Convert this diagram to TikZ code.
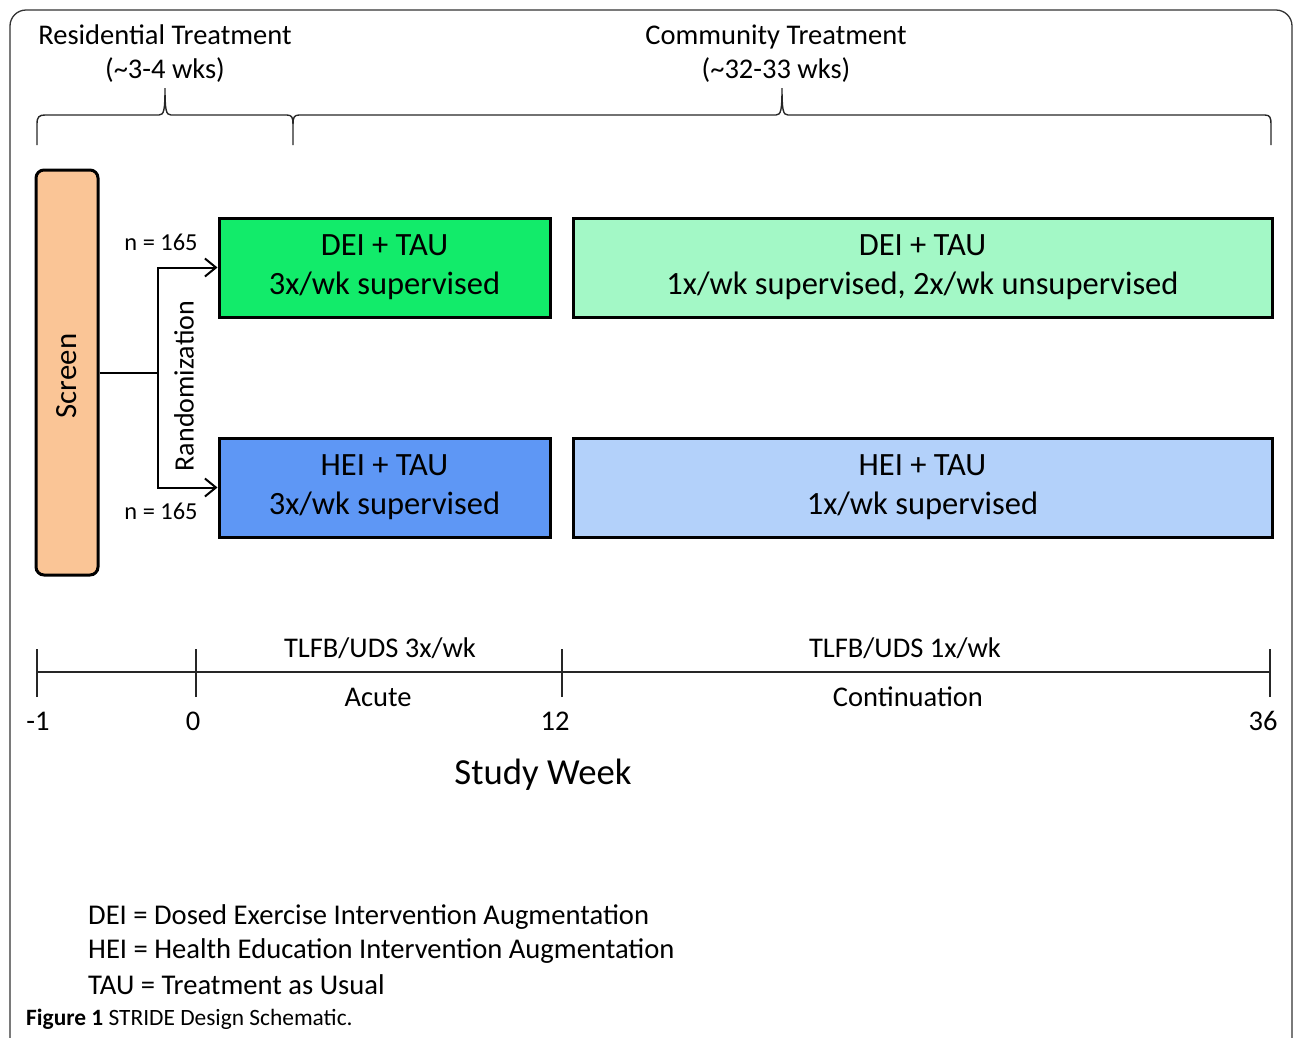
\documentclass[tikz,border=0pt]{standalone}
\usepackage{fontspec}
\setmainfont{Carlito}
\usetikzlibrary{arrows.meta}
\definecolor{cGreen}{HTML}{12EB6A}
\definecolor{cLGreen}{HTML}{A3F8C6}
\definecolor{cBlue}{HTML}{5E97F5}
\definecolor{cLBlue}{HTML}{B3D1FA}
\definecolor{cPeach}{HTML}{FAC596}
\begin{document}
\begin{tikzpicture}[x=1pt,y=-1pt,
  armbox/.style={draw=black, line width=3pt, minimum height=99pt, align=center,
    font=\fontsize{32.5}{39}\selectfont, inner sep=0pt},
  toplabel/.style={align=center, font=\fontsize{28.5}{34}\selectfont, inner sep=0pt},
  tllabel/.style={font=\fontsize{28.5}{32}\selectfont, inner sep=0pt},
  legend/.style={font=\fontsize{28.6}{32}\selectfont, inner sep=0pt, anchor=west},
  bracepath/.style={line width=1.4pt, black!85},
  conn/.style={line width=2pt},
  arr/.style={conn, -{Straight Barb[length=11pt,width=18pt,line width=2pt]}}
]
\useasboundingbox (0,0) rectangle (1293,1037);
\begin{scope}
\clip (0,0) rectangle (1293,1037);
\draw[line width=1.3pt, black!80, rounded corners=16pt] (10,10) rectangle (1292,1060);
\end{scope}

% top labels
\node[toplabel] (res) at (165,54) {Residential Treatment\\(\textasciitilde 3-4 wks)};
\node[toplabel] (com) at (776,54) {Community Treatment\\(\textasciitilde 32-33 wks)};

% braces
\draw[bracepath] (37,145) -- (37,124) .. controls (37,117) and (39,115) .. (45,115)
  -- (159,115) .. controls (164,115) and (165,110) .. (165,88)
  .. controls (165,110) and (166,115) .. (171,115) -- (287,115)
  .. controls (292,115) and (293,118) .. (293,124) -- (293,145);
\draw[bracepath] (293,124) .. controls (293,118) and (294,115) .. (299,115)
  -- (776,115) .. controls (781,115) and (782,110) .. (782,88)
  .. controls (782,110) and (783,115) .. (788,115) -- (1265,115)
  .. controls (1270,115) and (1271,118) .. (1271,124) -- (1271,145);

% screen
\node[draw=black, line width=3pt, fill=cPeach, rounded corners=8pt,
  minimum width=62pt, minimum height=405pt, inner sep=0pt] (screen) at (67,372.5) {};
\node[rotate=90, font=\fontsize{30.8}{36}\selectfont, inner sep=0pt] (screentxt) at (67,376) {Screen};

% arm boxes
\node[armbox, fill=cGreen, minimum width=331pt] (dei1) at (384.5,267.5) {DEI + TAU\\3x/wk supervised};
\node[armbox, fill=cLGreen, minimum width=699pt] (dei2) at (922.5,267.5) {DEI + TAU\\1x/wk supervised, 2x/wk unsupervised};
\node[armbox, fill=cBlue, minimum width=331pt] (hei1) at (384.5,487.5) {HEI + TAU\\3x/wk supervised};
\node[armbox, fill=cLBlue, minimum width=699pt] (hei2) at (922.5,487.5) {HEI + TAU\\1x/wk supervised};

% randomization connectors
\coordinate (split) at (158,372.5);
\draw[conn] (screen.east) -- (split);
\draw[arr] (split) |- (dei1.west);
\draw[arr] (split) |- (hei1.west);
\node[rotate=90, font=\fontsize{28}{32}\selectfont, inner sep=0pt] (rand) at (184,386) {Randomization};
\node[font=\fontsize{24.4}{28}\selectfont, inner sep=0pt] (n1) at (161,242) {n = 165};
\node[font=\fontsize{24.4}{28}\selectfont, inner sep=0pt] (n2) at (161,511) {n = 165};

% timeline
\coordinate (t0) at (37,672);
\coordinate (t1) at (196,672);
\coordinate (t2) at (562,672);
\coordinate (t3) at (1270,672);
\draw[line width=1.4pt, black!85] (t0) -- (t3);
\foreach \t in {t0,t1,t2,t3}{
  \draw[line width=1.4pt, black!85] ([yshift=-25pt]\t) -- ([yshift=23pt]\t);
}
\node[tllabel] (wm1) at (38,721) {-1};
\node[tllabel] (w0) at (193,721) {0};
\node[tllabel] (w12) at (555,721) {12};
\node[tllabel] (w36) at (1263,721) {36};
\node[tllabel] (tl1) at (380,648) {TLFB/UDS 3x/wk};
\node[tllabel] (tl2) at (905,648) {TLFB/UDS 1x/wk};
\node[tllabel] (acute) at (378,697) {Acute};
\node[tllabel] (cont) at (908,697) {Continuation};
\node[font=\fontsize{36.7}{42}\selectfont, inner sep=0pt] (sw) at (543,775) {Study Week};

% legend
\node[legend] (l1) at (88,917) {DEI = Dosed Exercise Intervention Augmentation};
\node[legend] (l2) at (88,951) {HEI = Health Education Intervention Augmentation};
\node[legend] (l3) at (88,985) {TAU = Treatment as Usual};
\node[font=\fontsize{23.4}{27}\selectfont, inner sep=0pt, anchor=west] (cap) at (26,1019)
  {\textbf{Figure 1} STRIDE Design Schematic.};
\end{tikzpicture}
\end{document}
